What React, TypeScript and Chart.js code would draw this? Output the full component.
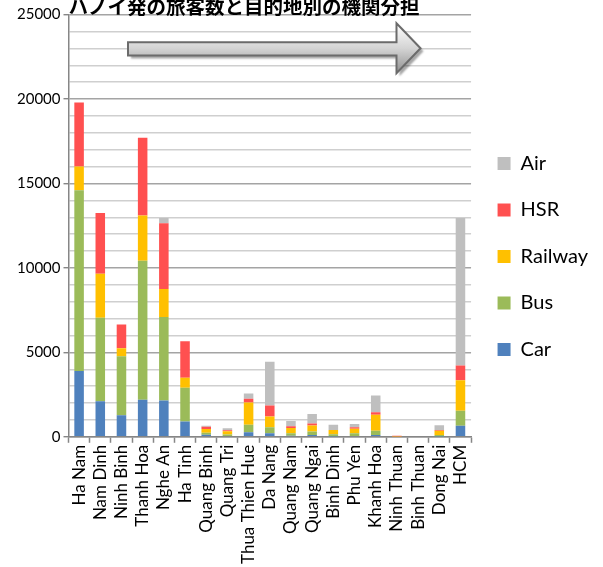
import { useEffect, useRef } from "react";
import { Chart, registerables } from "chart.js";

Chart.register(...registerables);

const titleText = "ハノイ発の旅客数と目的地別の機関分担";

const categories = [
  "Ha Nam", "Nam Dinh", "Ninh Binh", "Thanh Hoa", "Nghe An", "Ha Tinh",
  "Quang Binh", "Quang Tri", "Thua Thien Hue", "Da Nang", "Quang Nam",
  "Quang Ngai", "Binh Dinh", "Phu Yen", "Khanh Hoa", "Ninh Thuan",
  "Binh Thuan", "Dong Nai", "HCM",
];

const car = [3900, 2100, 1270, 2200, 2150, 900, 120, 40, 275, 215, 60, 105, 20, 40, 105, 0, 0, 20, 660];
const bus = [10700, 4950, 3500, 8230, 4950, 2000, 125, 100, 435, 355, 150, 205, 125, 170, 250, 0, 0, 85, 885];
const railway = [1400, 2600, 470, 2670, 1650, 600, 210, 190, 1325, 635, 310, 360, 250, 270, 955, 10, 0, 250, 1800];
const hsr = [3800, 3600, 1410, 4610, 3900, 2150, 145, 60, 220, 655, 105, 120, 0, 80, 150, 50, 0, 40, 870];
const air = [0, 0, 0, 0, 300, 0, 60, 110, 315, 2590, 315, 560, 315, 190, 990, 0, 40, 295, 8735];

const seriesNames = ["Car", "Bus", "Railway", "HSR", "Air"];
const seriesColors = ["#4f81bd", "#9bbb59", "#ffc000", "#ff5050", "#bfbfbf"];

const yMin = 0;
const yMax = 25000;
const yStep = 1000;
const yLabelStep = 5000;

const W = 598;
const H = 573;
const TOP = -7;

const arrowPlugin = {
  id: "arrowDeco",
  afterDraw(chart: any) {
    const { ctx, chartArea } = chart;
    const l = chartArea.left;
    const t = chartArea.top;
    const x0 = l + 59.5;
    const xh = l + 328;
    const xt = l + 352;
    const bt = t + 27.7;
    const bb = t + 41;
    const ht = t + 8.7;
    const hb = t + 58.7;
    const ym = t + 33.7;
    ctx.save();
    ctx.beginPath();
    ctx.moveTo(x0, bt);
    ctx.lineTo(xh, bt);
    ctx.lineTo(xh, ht);
    ctx.lineTo(xt, ym);
    ctx.lineTo(xh, hb);
    ctx.lineTo(xh, bb);
    ctx.lineTo(x0, bb);
    ctx.closePath();
    ctx.shadowColor = "rgba(0,0,0,0.35)";
    ctx.shadowBlur = 2;
    ctx.shadowOffsetX = 3;
    ctx.shadowOffsetY = 3;
    const g = ctx.createLinearGradient(0, ht, 0, hb);
    g.addColorStop(0, "#ffffff");
    g.addColorStop(0.5, "#d4d4d4");
    g.addColorStop(1, "#8f8f8f");
    ctx.fillStyle = g;
    ctx.fill();
    ctx.shadowColor = "transparent";
    ctx.lineWidth = 2;
    ctx.strokeStyle = "#6b6b6b";
    ctx.lineJoin = "miter";
    ctx.stroke();
    ctx.restore();
  },
};

export default function App() {
  const ref = useRef<HTMLCanvasElement>(null);
  useEffect(() => {
    const values = [car, bus, railway, hsr, air];
    const chart = new Chart(ref.current as HTMLCanvasElement, {
      type: "bar",
      data: {
        labels: categories,
        datasets: seriesNames.map((name, i) => ({
          label: name,
          data: values[i],
          backgroundColor: seriesColors[i],
          borderWidth: 0,
          barPercentage: 0.5,
          categoryPercentage: 0.9,
        })),
      },
      options: {
        animation: false,
        responsive: false,
        maintainAspectRatio: false,
        layout: { padding: { left: 14, right: 0, top: 0, bottom: 0 } },
        plugins: {
          title: {
            display: true,
            text: titleText,
            align: "start",
            fullSize: false,
            color: "#000",
            font: { family: "'Noto Sans CJK JP'", size: 19.5, weight: "bold", lineHeight: 0.8 },
            padding: { top: 6, bottom: 0 },
          },
          legend: {
            position: "right",
            align: "start",
            reverse: true,
            title: {
              display: true,
              text: " ",
              font: { size: 10, lineHeight: 1.2 },
              padding: { top: 122, bottom: 0 },
            },
            labels: {
              boxWidth: 13,
              boxHeight: 13,
              padding: 26.5,
              color: "#000",
              font: { family: "Lato", size: 20 },
            },
          },
          tooltip: { enabled: false },
        },
        scales: {
          x: {
            stacked: true,
            border: { display: true, color: "#868686", width: 1.5 },
            grid: {
              drawOnChartArea: false,
              drawTicks: true,
              tickLength: 6,
              tickColor: "#868686",
              tickWidth: 1.5,
            },
            ticks: {
              autoSkip: false,
              minRotation: 90,
              maxRotation: 90,
              padding: 2,
              color: "#000",
              font: { family: "Lato", size: 17 },
            },
          },
          y: {
            stacked: true,
            min: yMin,
            max: yMax,
            border: { display: true, color: "#868686", width: 1.5 },
            grid: {
              color: (c: any) => (c.tick && c.tick.value % yLabelStep === 0 ? "#a4a4a4" : "#cfcfcf"),
              lineWidth: 1.4,
              drawTicks: true,
              tickLength: 5,
              tickColor: (c: any) => (c.tick && c.tick.value % yLabelStep === 0 ? "#868686" : "rgba(0,0,0,0)"),
            },
            ticks: {
              stepSize: yStep,
              autoSkip: false,
              padding: 3,
              color: "#000",
              font: { family: "Lato", size: 15 },
              callback: (v: any) => (Number(v) % yLabelStep === 0 ? String(v) : ""),
            },
          },
        },
      },
      plugins: [arrowPlugin],
    });
    return () => chart.destroy();
  }, []);
  return (
    <div style={{ position: "absolute", left: 0, top: TOP, width: W, height: H }}>
      <canvas ref={ref} width={W} height={H} style={{ width: W, height: H, display: "block" }} />
    </div>
  );
}
